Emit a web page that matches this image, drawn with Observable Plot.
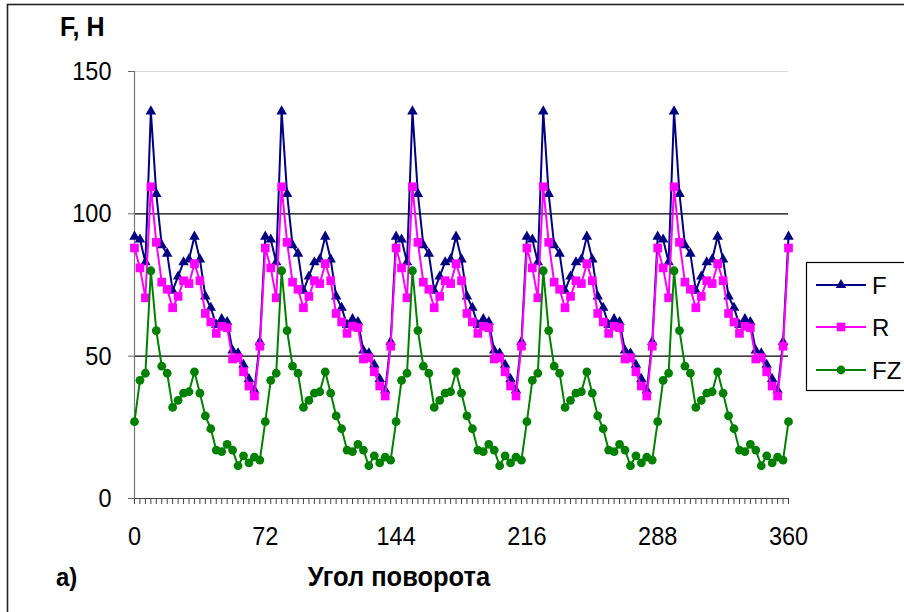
<!DOCTYPE html>
<html>
<head>
<meta charset="utf-8">
<script src="https://cdn.jsdelivr.net/npm/d3@7"></script>
<script src="https://cdn.jsdelivr.net/npm/@observablehq/plot@0.6"></script>
<style>
  html, body { margin: 0; padding: 0; background: #fff; }
  #chart { width: 904px; height: 612px; overflow: hidden; }
</style>
</head>
<body>
<div id="chart"></div>
<script>
// Category axis: angle of rotation, every 3 degrees
const angles = d3.range(0, 361, 3);
const xTickLabels = [0, 72, 144, 216, 288, 360];
const yTicks = [0, 50, 100, 150];

const seriesNames = ["F", "R", "FZ"];
const seriesColors = ["#000080", "#ff00ff", "#008000"];

const F = [
  92, 91, 83, 136, 107, 89, 86, 73, 78, 83, 84, 92, 84, 71, 67, 61, 63, 62, 52, 51, 47, 42, 38, 55,
  92, 91, 83, 136, 107, 89, 86, 73, 78, 83, 84, 92, 84, 71, 67, 61, 63, 62, 52, 51, 47, 42, 38, 55,
  92, 91, 83, 136, 107, 89, 86, 73, 78, 83, 84, 92, 84, 71, 67, 61, 63, 62, 52, 51, 47, 42, 38, 55,
  92, 91, 83, 136, 107, 89, 86, 73, 78, 83, 84, 92, 84, 71, 67, 61, 63, 62, 52, 51, 47, 42, 38, 55,
  92, 91, 83, 136, 107, 89, 86, 73, 78, 83, 84, 92, 84, 71, 67, 61, 63, 62, 52, 51, 47, 42, 38, 55,
  92
];
const R = [
  88, 81, 70.5, 109.5, 90, 76, 73.5, 67, 71, 76.5, 75.5, 82.5, 76.5, 65, 62, 58, 60.5, 60, 49, 49.5, 44.5, 39.5, 36, 53.5,
  88, 81, 70.5, 109.5, 90, 76, 73.5, 67, 71, 76.5, 75.5, 82.5, 76.5, 65, 62, 58, 60.5, 60, 49, 49.5, 44.5, 39.5, 36, 53.5,
  88, 81, 70.5, 109.5, 90, 76, 73.5, 67, 71, 76.5, 75.5, 82.5, 76.5, 65, 62, 58, 60.5, 60, 49, 49.5, 44.5, 39.5, 36, 53.5,
  88, 81, 70.5, 109.5, 90, 76, 73.5, 67, 71, 76.5, 75.5, 82.5, 76.5, 65, 62, 58, 60.5, 60, 49, 49.5, 44.5, 39.5, 36, 53.5,
  88, 81, 70.5, 109.5, 90, 76, 73.5, 67, 71, 76.5, 75.5, 82.5, 76.5, 65, 62, 58, 60.5, 60, 49, 49.5, 44.5, 39.5, 36, 53.5,
  88
];
const FZ = [
  27, 41.5, 44, 80, 59, 46.5, 44, 32, 34.5, 37, 37.5, 44.5, 37, 29, 24.5, 17, 16.5, 19, 17, 11.5, 15, 12.5, 14.5, 13.5,
  27, 41.5, 44, 80, 59, 46.5, 44, 32, 34.5, 37, 37.5, 44.5, 37, 29, 24.5, 17, 16.5, 19, 17, 11.5, 15, 12.5, 14.5, 13.5,
  27, 41.5, 44, 80, 59, 46.5, 44, 32, 34.5, 37, 37.5, 44.5, 37, 29, 24.5, 17, 16.5, 19, 17, 11.5, 15, 12.5, 14.5, 13.5,
  27, 41.5, 44, 80, 59, 46.5, 44, 32, 34.5, 37, 37.5, 44.5, 37, 29, 24.5, 17, 16.5, 19, 17, 11.5, 15, 12.5, 14.5, 13.5,
  27, 41.5, 44, 80, 59, 46.5, 44, 32, 34.5, 37, 37.5, 44.5, 37, 29, 24.5, 17, 16.5, 19, 17, 11.5, 15, 12.5, 14.5, 13.5,
  27
];

const yTitle = "F, H";
const xTitle = "Угол поворота";
const panelLabel = "а)";

const seriesValues = [F, R, FZ];
const rows = seriesNames.flatMap((name, s) =>
  angles.map((a, i) => ({ series: name, angle: a, value: seriesValues[s][i] }))
);
const bySeries = name => rows.filter(d => d.series === name);

const FONT = "'Liberation Sans', Arial, sans-serif";
const STRETCH = 1.12;

const plot = Plot.plot({
  width: 904,
  height: 612,
  marginLeft: 134,
  marginRight: 116,
  marginTop: 71,
  marginBottom: 114,
  style: { fontFamily: FONT, background: "white", overflow: "visible" },
  x: { domain: [0, 360], label: null },
  y: { domain: [0, 150], label: null },
  marks: [
    Plot.ruleY([150], { stroke: "#d8d8d8", strokeWidth: 1 }),
    Plot.ruleY([50, 100], { stroke: "#000", strokeWidth: 1.2 }),
    Plot.axisY({ ticks: yTicks, tickSize: 6, tickPadding: 17, fontSize: 23.5, stroke: "#666", label: null, tickFormat: d3.format("d"), fill: "#000" }),
    Plot.ruleX([0], { stroke: "#777", strokeWidth: 1.2 }),
    Plot.axisX({ ticks: angles, tickSize: 6, tickFormat: () => "", stroke: "#444", label: null }),
    Plot.axisX({ ticks: xTickLabels, tickSize: 0, tickPadding: 28, fontSize: 23.5, label: null, tickFormat: d3.format("d"), fill: "#000" }),
    Plot.ruleY([0], { stroke: "#444", strokeWidth: 1.2 }),
    // F
    Plot.line(bySeries("F"), { x: "angle", y: "value", stroke: seriesColors[0], strokeWidth: 2 }),
    Plot.dot(bySeries("F"), { x: "angle", y: "value", symbol: "triangle", r: 3.9, fill: seriesColors[0], stroke: "none" }),
    // R
    Plot.line(bySeries("R"), { x: "angle", y: "value", stroke: seriesColors[1], strokeWidth: 2 }),
    Plot.dot(bySeries("R"), { x: "angle", y: "value", symbol: "square", r: 4.9, fill: seriesColors[1], stroke: "none" }),
    // FZ
    Plot.line(bySeries("FZ"), { x: "angle", y: "value", stroke: seriesColors[2], strokeWidth: 2 }),
    Plot.dot(bySeries("FZ"), { x: "angle", y: "value", symbol: "circle", r: 4.4, fill: seriesColors[2], stroke: "none" })
  ]
});

document.getElementById("chart").appendChild(plot);

const svg = d3.select(plot);

// Slight vertical stretch of tick labels, as in the original rendering
svg.selectAll('g[aria-label="y-axis tick label"] text, g[aria-label="x-axis tick label"] text')
  .each(function () {
    const t = this.getAttribute("transform") || "";
    this.setAttribute("transform", `${t} scale(1,${STRETCH})`);
  });

// Outer frame (only top and left visible in the cropped original)
svg.append("rect")
  .attr("x", 7.5).attr("y", 4.5).attr("width", 1200).attr("height", 1200)
  .attr("fill", "none").attr("stroke", "#222").attr("stroke-width", 1.6);

// Titles
function addText(str, x, y, size, anchor, stretch) {
  svg.append("text").text(str)
    .attr("transform", `translate(${x},${y}) scale(1,${stretch})`)
    .attr("text-anchor", anchor)
    .attr("font-family", FONT).attr("font-weight", "bold")
    .attr("font-size", size).attr("fill", "#000");
}
addText(yTitle, 60, 36, 25, "start", STRETCH);
addText(xTitle, 399, 586, 25.5, "middle", 1.08);
addText(panelLabel, 56, 586, 24, "start", 1.08);

// Legend
const lg = svg.append("g");
lg.append("rect")
  .attr("x", 806.5).attr("y", 262.5).attr("width", 200).attr("height", 128)
  .attr("fill", "#fff").attr("stroke", "#000").attr("stroke-width", 1.2);
const legendSymbols = [d3.symbolTriangle, d3.symbolSquare, d3.symbolCircle];
const legendSizes = [Math.PI * 3.9 * 3.9, Math.PI * 4.9 * 4.9, Math.PI * 4.4 * 4.4];
const legendY = [285, 327, 370];
seriesNames.forEach((name, i) => {
  const y = legendY[i];
  lg.append("line").attr("x1", 816).attr("x2", 866).attr("y1", y).attr("y2", y)
    .attr("stroke", seriesColors[i]).attr("stroke-width", 2);
  lg.append("path").attr("d", d3.symbol(legendSymbols[i], legendSizes[i])())
    .attr("transform", `translate(841,${y})`).attr("fill", seriesColors[i]);
  lg.append("text").text(name)
    .attr("x", 872).attr("y", y + 8.6)
    .attr("text-anchor", "start")
    .attr("font-family", FONT).attr("font-size", 24).attr("fill", "#000");
});
</script>
</body>
</html>
